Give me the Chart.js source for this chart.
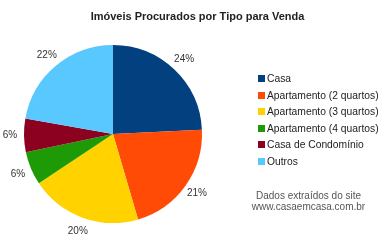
<!DOCTYPE html>
<html>
<head>
<meta charset="utf-8">
<script src="https://cdn.jsdelivr.net/npm/chart.js@4"></script>
<style>
  body { margin: 0; background: #fff; }
  #caixa { position: relative; width: 385px; height: 240px; font-family: "Liberation Sans", Arial, sans-serif; }
  #grafico { position: absolute; left: 0; top: 0; }
  #titulo { position: absolute; left: 5px; top: 9px; width: 385px; text-align: center; font-size: 11px; font-weight: bold; color: #222; line-height: 14px; }
  #legenda { position: absolute; left: 258px; top: 72px; font-size: 10.3px; color: #222; }
  .item { height: 16.5px; line-height: 14px; white-space: nowrap; }
  .cor { display: inline-block; width: 7px; height: 7px; margin-right: 2px; vertical-align: 0px; }
  #fonte { position: absolute; left: 236px; top: 190px; width: 145px; text-align: center; font-size: 10px; color: #555; line-height: 11px; }
</style>
</head>
<body>
<div id="caixa">
  <canvas id="grafico" width="385" height="240"></canvas>
  <div id="titulo">Imóveis Procurados por Tipo para Venda</div>
  <div id="legenda"></div>
  <div id="fonte">Dados extraídos do site<br>www.casaemcasa.com.br</div>
</div>
<script>
const tipos = ['Casa', 'Apartamento (2 quartos)', 'Apartamento (3 quartos)', 'Apartamento (4 quartos)', 'Casa de Condomínio', 'Outros'];
const percentuais = [24, 21, 20, 6, 6, 22];
const rotulos = ['24%', '21%', '20%', '6%', '6%', '22%'];
const cores = ['#02407f', '#ff4b05', '#ffd200', '#1e9a06', '#8c0020', '#58c8ff'];

let cargarLegenda = () => {
    let html = '';
    for (let i = 0; i < tipos.length; i++) {
        html += `<div class="item"><span class="cor" style="background:${cores[i]}"></span>${tipos[i]}</div>`;
    }
    document.getElementById('legenda').innerHTML = html;
};

// rótulos de percentual por fora da pizza
const rotulosFora = {
    id: 'rotulosFora',
    afterDatasetsDraw(chart) {
        let ctx = chart.ctx;
        let arcos = chart.getDatasetMeta(0).data;
        ctx.save();
        ctx.font = '10px "Liberation Sans", Arial, sans-serif';
        ctx.fillStyle = '#333';
        ctx.textAlign = 'center';
        ctx.textBaseline = 'middle';
        arcos.forEach((arco, i) => {
            let meio = (arco.startAngle + arco.endAngle) / 2;
            let r = arco.outerRadius + 14;
            ctx.fillText(rotulos[i], arco.x + Math.cos(meio) * r, arco.y + Math.sin(meio) * r);
        });
        ctx.restore();
    }
};

cargarLegenda();

new Chart(document.getElementById('grafico'), {
    type: 'pie',
    data: {
        labels: tipos,
        datasets: [{
            data: percentuais,
            backgroundColor: cores,
            borderWidth: 0
        }]
    },
    options: {
        responsive: false,
        animation: false,
        layout: { padding: { left: 24, right: 183, top: 45, bottom: 17 } },
        plugins: {
            legend: { display: false },
            tooltip: { enabled: false },
            title: { display: false }
        }
    },
    plugins: [rotulosFora]
});
</script>
</body>
</html>
